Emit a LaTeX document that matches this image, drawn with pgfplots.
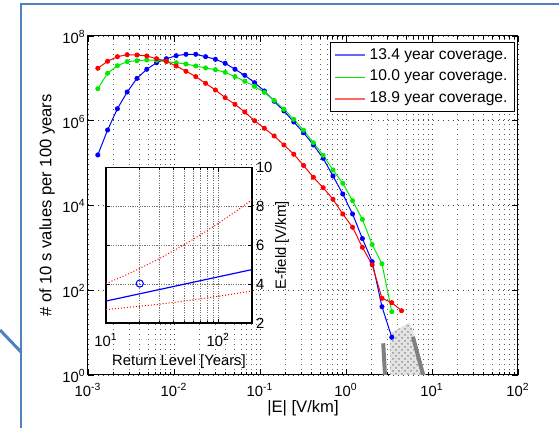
\documentclass[border=0pt]{standalone}
\usepackage{fontspec}
\setmainfont{Liberation Sans}
\usepackage{pgfplots}
\pgfplotsset{compat=1.18}
\usetikzlibrary{patterns}
\definecolor{mblue}{RGB}{0,0,255}
\definecolor{mgreen}{RGB}{0,235,0}
\definecolor{mred}{RGB}{255,0,0}
\definecolor{frameblue}{RGB}{79,129,189}

\pgfplotsset{
  mgrid/.style={
    major grid style={black!75, line width=0.4pt, dash pattern=on 0.5pt off 2pt},
    minor grid style={black!65, line width=0.4pt, dash pattern=on 0.5pt off 2pt},
  },
}

\begin{document}
\begin{tikzpicture}
\useasboundingbox (-44pt,-26.5pt) rectangle (235.5pt,187.5pt);

% main chart
\begin{axis}[
  at={(0pt,0pt)}, anchor=south west,
  width=215pt, height=169.5pt, scale only axis,
  xmode=log, ymode=log,
  xmin=1e-3, xmax=1e2, ymin=1, ymax=1e8,
  axis line style={black, line width=0.5pt},
  tick align=inside, tick style={black, line width=0.4pt},
  major tick length=3pt, minor tick length=1.6pt,
  xtick={1e-3,1e-2,1e-1,1,10,100},
  xticklabels={10\textsuperscript{-3},10\textsuperscript{-2},10\textsuperscript{-1},10\textsuperscript{0},10\textsuperscript{1},10\textsuperscript{2}},
  minor xtick={2e-3,3e-3,4e-3,5e-3,6e-3,7e-3,8e-3,9e-3,
               0.02,0.03,0.04,0.05,0.06,0.07,0.08,0.09,
               0.2,0.3,0.4,0.5,0.6,0.7,0.8,0.9,
               2,3,4,5,6,7,8,9,20,30,40,50,60,70,80,90},
  ytick={1,1e2,1e4,1e6,1e8},
  yticklabels={10\textsuperscript{0},10\textsuperscript{2},10\textsuperscript{4},10\textsuperscript{6},10\textsuperscript{8}},
  minor ytick={},
  xmajorgrids, xminorgrids, ymajorgrids, mgrid,
  xticklabel style={font=\fontsize{7.4}{8}\selectfont, anchor=base, yshift=-11pt},
  yticklabel style={font=\fontsize{7.4}{8}\selectfont, anchor=base east, inner sep=0pt, xshift=-1pt, yshift=-3.65pt},
  xlabel={|E| [V/km]},
  ylabel={\# of 10 s values per 100 years},
  xlabel style={at={(axis description cs:0.5,-0.0973)}, anchor=center, font=\fontsize{8.3}{9}\selectfont},
  ylabel style={at={(axis description cs:-0.0953,0.5)}, anchor=center, rotate=0, font=\fontsize{8.3}{9}\selectfont},
  legend style={at={(axis description cs:1,1)}, anchor=north east, xshift=-1.5pt, yshift=-2.85pt,
    draw=black, fill=white, line width=0.5pt, font=\fontsize{7.8}{9}\selectfont,
    inner xsep=1.5pt, inner ysep=1pt, row sep=0pt, cells={anchor=west}},
  legend image code/.code={\draw[#1] (0pt,0pt) -- (15pt,0pt);},
  mark size=1pt,
]
% shaded region and bars
\addplot[forget plot, draw=none, fill=gray!22, postaction={pattern=crosshatch dots, pattern color=gray!85}]
  coordinates {(3.25,1) (3.25,9.6) (4.3,13) (5.45,17.1) (5.9,12) (8.4,1)} -- cycle;
\addplot[forget plot, gray, line width=2pt] coordinates {(2.71,5.6) (2.84,1)};
\addplot[forget plot, gray, line width=2pt] coordinates {(6.0,8.0) (7.9,1)};

\addplot[mblue, line width=0.5pt, mark=*, legend image post style={line width=1pt, draw opacity=0.6}] coordinates {
(0.0013,1.56e5) (0.00169,6.05e5) (0.002197,1.92e6) (0.002856,4.77e6) (0.003713,1.00e7)
(0.004827,1.64e7) (0.006275,2.34e7) (0.008157,2.91e7) (0.010604,3.43e7) (0.013786,3.70e7)
(0.017922,3.70e7) (0.023298,3.25e7) (0.030288,2.82e7) (0.039374,2.27e7) (0.051186,1.64e7)
(0.066542,1.18e7) (0.086505,7.91e6) (0.11246,5.04e6) (0.14619,2.88e6) (0.19005,1.70e6)
(0.24707,9.35e5) (0.32119,5.22e5) (0.41755,2.68e5) (0.54281,1.30e5) (0.70566,4.97e4)
(0.91735,1.87e4) (1.1926,6.30e3) (1.5503,1.66e3) (2.0154,472) (2.6201,40.9) (3.4061,7.76)
};
\addlegendentry{13.4 year coverage.}

\addplot[mgreen, line width=0.5pt, mark=*, legend image post style={line width=0.35pt}] coordinates {
(0.0013,5.71e6) (0.00169,1.32e7) (0.002197,1.99e7) (0.002856,2.48e7) (0.003713,2.61e7)
(0.004827,2.72e7) (0.006275,2.67e7) (0.008157,2.48e7) (0.010604,2.34e7) (0.013786,2.18e7)
(0.017922,1.96e7) (0.023298,1.76e7) (0.030288,1.60e7) (0.039374,1.39e7) (0.051186,1.10e7)
(0.066542,8.53e6) (0.086505,6.46e6) (0.11246,4.68e6) (0.14619,3.02e6) (0.19005,1.86e6)
(0.24707,1.08e6) (0.32119,5.96e5) (0.41755,3.03e5) (0.54281,1.53e5) (0.70566,6.88e4)
(0.91735,3.34e4) (1.1926,1.30e4) (1.5503,4.72e3) (2.0154,1.20e3) (2.6201,421) (3.4061,31.2)
};
\addlegendentry{10.0 year coverage.}

\addplot[mred, line width=0.5pt, mark=*, legend image post style={line width=1pt, draw opacity=0.6}] coordinates {
(0.0013,1.73e7) (0.00169,2.53e7) (0.002197,3.25e7) (0.002856,3.62e7) (0.003713,3.56e7)
(0.004827,3.38e7) (0.006275,2.91e7) (0.008157,2.53e7) (0.010604,1.96e7) (0.013786,1.47e7)
(0.017922,1.10e7) (0.023298,7.65e6) (0.030288,5.32e6) (0.039374,3.50e6) (0.051186,2.44e6)
(0.066542,1.61e6) (0.086505,1.00e6) (0.11246,6.64e5) (0.14619,4.37e5) (0.19005,2.68e5)
(0.24707,1.62e5) (0.32119,8.79e4) (0.41755,4.63e4) (0.54281,2.63e4) (0.70566,1.40e4)
(0.91735,6.30e3) (1.1926,3.06e3) (1.5503,1.03e3) (2.0154,399) (2.6201,64.6) (3.4061,50.9)
(4.4279,32.9)
};
\addlegendentry{18.9 year coverage.}
\end{axis}

% inset
\begin{axis}[
  at={(9pt,26pt)}, anchor=south west,
  width=73pt, height=77.7pt, scale only axis,
  axis background/.style={fill=white},
  xmode=log, xmin=10, xmax=200, ymin=2, ymax=10,
  axis line style={black, line width=0.6pt},
  tick align=inside, tick style={black, line width=0.4pt},
  major tick length=2pt, minor tick length=1.2pt,
  xtick={10,100},
  xticklabels={10\textsuperscript{1},10\textsuperscript{2}},
  minor xtick={20,30,40,50,60,70,80,90,200},
  ytick={2,4,6,8,10},
  yticklabels={2,4,6,8,10},
  yticklabel pos=right,
  xmajorgrids, xminorgrids, ymajorgrids,
  major grid style={black!55, line width=0.4pt, dash pattern=on 0.6pt off 0.6pt},
  minor grid style={black!55, line width=0.4pt, dash pattern=on 0.6pt off 0.6pt},
  xticklabel style={font=\fontsize{7.4}{8}\selectfont, anchor=base, yshift=-11.8pt},
  yticklabel style={font=\fontsize{7.4}{8}\selectfont, anchor=west, inner sep=0pt, xshift=1.8pt},
  xlabel={Return Level [Years]},
  ylabel={E-field [V/km]},
  xlabel style={at={(axis description cs:0.5,-0.249)}, anchor=center, font=\fontsize{7.4}{8}\selectfont},
  ylabel style={at={(axis description cs:1.205,0.5)}, anchor=center, rotate=0, font=\fontsize{7.4}{8}\selectfont},
]
\addplot[mred, line width=0.5pt, densely dotted] coordinates {
(10,4.03) (14,4.39) (20,4.81) (30,5.32) (40,5.72) (50,6.04) (70,6.55) (100,7.13) (140,7.70) (200,8.35)
};
\addplot[mred, line width=0.5pt, densely dotted] coordinates {
(10,2.69) (20,2.86) (30,2.97) (50,3.13) (100,3.37) (200,3.65)
};
\addplot[mblue, line width=0.6pt] coordinates {(10,3.13) (200,4.75)};
\addplot[mblue, only marks, mark=o, mark size=1.8pt, line width=0.5pt] coordinates {(20,4.03)};
\end{axis}

% slide frame
\draw[frameblue, line width=1pt] (-33.5pt,-27pt) -- (-33.5pt,185.35pt) -- (236pt,185.35pt);
\draw[frameblue, line width=1.5pt] (-44pt,22.5pt) -- (-33.5pt,11.5pt);
\end{tikzpicture}
\end{document}
